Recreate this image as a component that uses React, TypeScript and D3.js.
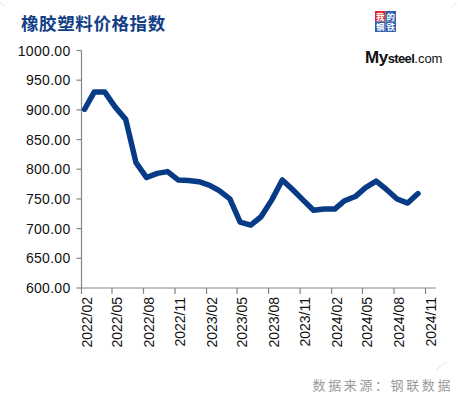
import React, { useEffect, useRef } from 'react';
import * as d3 from 'd3';

// monthly index, 2022/02 .. 2024/10
const months = [
  '2022/02', '2022/03', '2022/04', '2022/05', '2022/06', '2022/07', '2022/08', '2022/09', '2022/10', '2022/11', '2022/12',
  '2023/01', '2023/02', '2023/03', '2023/04', '2023/05', '2023/06', '2023/07', '2023/08', '2023/09', '2023/10', '2023/11', '2023/12',
  '2024/01', '2024/02', '2024/03', '2024/04', '2024/05', '2024/06', '2024/07', '2024/08', '2024/09', '2024/10',
];
const values = [
  901, 930, 930, 905, 884, 811, 786, 793, 796, 782, 781,
  779, 773, 764, 750, 711, 706, 720, 748, 782, 766, 748, 731,
  733, 733, 747, 754, 769, 780, 766, 750, 743, 759,
];
const xTickLabels = [
  '2022/02', '2022/05', '2022/08', '2022/11', '2023/02', '2023/05',
  '2023/08', '2023/11', '2024/02', '2024/05', '2024/08', '2024/11',
];
const yTicks = [600, 650, 700, 750, 800, 850, 900, 950, 1000];

const W = 458;
const H = 397;

const parseMonth = (s: string, day = 1) => {
  const [y, m] = s.split('/').map(Number);
  return new Date(y, m - 1, day);
};

const App = () => {
  const svgRef = useRef<SVGSVGElement>(null);

  useEffect(() => {
    const svg = d3.select(svgRef.current);
    svg.selectAll('*').remove();

    const left = 81.5;
    const right = 435.8;
    const top = 50.5;
    const bottom = 288;

    const x = d3.scaleTime()
      .domain([parseMonth('2022/02'), parseMonth('2024/12')])
      .range([left, right]);
    const y = d3.scaleLinear().domain([600, 1000]).range([bottom, top]);

    const axisColor = '#868686';
    const font = 'Arial, "Liberation Sans", sans-serif';

    // title
    svg.append('text')
      .attr('x', 21)
      .attr('y', 30)
      .attr('fill', '#123f86')
      .attr('font-family', '"Noto Sans CJK SC", sans-serif')
      .attr('font-weight', 'bold')
      .attr('font-size', 17.5)
      .attr('letter-spacing', 0.6)
      .text('橡胶塑料价格指数');

    // y axis
    const gy = svg.append('g').attr('transform', `translate(${left},0)`);
    gy.append('line')
      .attr('y1', top).attr('y2', bottom)
      .attr('stroke', axisColor).attr('stroke-width', 1.2);
    yTicks.forEach(t => {
      gy.append('line')
        .attr('x1', -5).attr('x2', 0)
        .attr('y1', y(t)).attr('y2', y(t))
        .attr('stroke', axisColor).attr('stroke-width', 1.2);
      gy.append('text')
        .attr('x', -11)
        .attr('y', y(t) + 5)
        .attr('text-anchor', 'end')
        .attr('font-family', font)
        .attr('font-size', 14)
        .attr('letter-spacing', 0.3)
        .attr('fill', '#111')
        .text(t.toFixed(2));
    });

    // x axis
    const gx = svg.append('g').attr('transform', `translate(0,${bottom})`);
    gx.append('line')
      .attr('x1', left).attr('x2', right)
      .attr('stroke', axisColor).attr('stroke-width', 1.2);
    xTickLabels.forEach(lbl => {
      const tx = x(parseMonth(lbl));
      gx.append('line')
        .attr('x1', tx).attr('x2', tx)
        .attr('y1', 0).attr('y2', 6)
        .attr('stroke', axisColor).attr('stroke-width', 1.2);
      gx.append('text')
        .attr('transform', `translate(${tx + 10},${9}) rotate(-90)`)
        .attr('text-anchor', 'end')
        .attr('font-family', font)
        .attr('font-size', 14)
        .attr('fill', '#111')
        .text(lbl);
    });

    // line
    const pts = months.map((m, i) => ({ date: parseMonth(m, 10), value: values[i] }));
    const line = d3.line<{ date: Date; value: number }>()
      .x(d => x(d.date))
      .y(d => y(d.value));
    svg.append('path')
      .datum(pts)
      .attr('d', line)
      .attr('fill', 'none')
      .attr('stroke', '#083b86')
      .attr('stroke-width', 5.5)
      .attr('stroke-linejoin', 'round')
      .attr('stroke-linecap', 'round');

    // source note
    svg.append('text')
      .attr('x', 453)
      .attr('y', 390)
      .attr('text-anchor', 'end')
      .attr('font-family', '"Noto Sans CJK SC", sans-serif')
      .attr('font-size', 13)
      .attr('letter-spacing', 2.6)
      .attr('fill', '#9a9a9a')
      .text('数据来源：钢联数据');

    // faint corner marks
    [[0, 2, 5, 7], [452, 7, 457, 2], [436, 370, 447, 361]].forEach(([x1, y1, x2, y2]) => {
      svg.append('line')
        .attr('x1', x1).attr('y1', y1).attr('x2', x2).attr('y2', y2)
        .attr('stroke', '#e4e4e4').attr('stroke-width', 1);
    });

    // logo
    const logo = svg.append('g').attr('transform', 'translate(375,11)');
    const cells = [
      { ch: '我', cx: 0, cy: 0, bg: '#d9262c' },
      { ch: '的', cx: 10.5, cy: 0, bg: '#2f5fae' },
      { ch: '钢', cx: 0, cy: 10.5, bg: '#2f5fae' },
      { ch: '铁', cx: 10.5, cy: 10.5, bg: '#2f5fae' },
    ];
    cells.forEach(c => {
      logo.append('rect')
        .attr('x', c.cx).attr('y', c.cy)
        .attr('width', 10.5).attr('height', 10.5)
        .attr('fill', c.bg);
      logo.append('text')
        .attr('x', c.cx + 5.25).attr('y', c.cy + 8.6)
        .attr('text-anchor', 'middle')
        .attr('font-family', '"Noto Sans CJK SC", sans-serif')
        .attr('font-weight', 'bold')
        .attr('font-size', 8.5)
        .attr('fill', '#fff')
        .text(c.ch);
    });
    const brand = svg.append('text')
      .attr('x', 365)
      .attr('y', 63)
      .attr('font-family', font)
      .attr('fill', '#111');
    brand.append('tspan').attr('font-size', 17).attr('font-weight', 'bold').attr('letter-spacing', -0.5).text('My');
    brand.append('tspan').attr('font-size', 13).attr('font-weight', 'bold').attr('letter-spacing', -0.6).text('steel');
    brand.append('tspan').attr('font-size', 13).text('.com');
  }, []);

  return (
    <svg
      ref={svgRef}
      width={W}
      height={H}
      style={{ position: 'absolute', left: 0, top: 0, background: '#fff' }}
    />
  );
};

export default App;
